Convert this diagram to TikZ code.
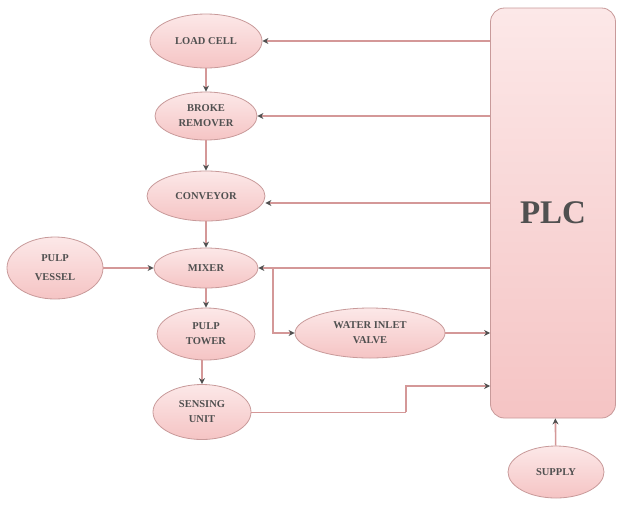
\documentclass[tikz,border=0pt]{standalone}
\usepackage{fontspec}
\setmainfont{Liberation Serif}
\usetikzlibrary{shapes.geometric,arrows.meta}
\definecolor{txt}{HTML}{505050}
\definecolor{edge}{HTML}{C89A9A}
\definecolor{wire}{HTML}{D49898}
\definecolor{tipc}{HTML}{505050}
\definecolor{ftop}{HTML}{FCE8E8}
\definecolor{fbot}{HTML}{F5C4C4}
\tikzset{
  blob/.style={ellipse, draw=edge, line width=0.8pt, top color=ftop, bottom color=fbot,
    inner sep=0pt, align=center, text=txt, font=\bfseries\fontsize{10.5}{15}\selectfont},
  wireline/.style={draw=wire, line width=1.6pt},
  arr/.style={wireline, -{Stealth[length=6pt,width=6pt,color=tipc]}},
}
\begin{document}
\begin{tikzpicture}[x=1pt,y=-1pt]
\useasboundingbox (0,0) rectangle (617,504);
% PLC
\node[draw=edge, line width=0.8pt, rounded corners=14pt, top color=ftop, bottom color=fbot,
  minimum width=125pt, minimum height=410pt, inner sep=0pt, text=txt,
  font=\bfseries\fontsize{33}{36}\selectfont] (plc) at (553,213) {PLC};
% ellipses
\node[blob, minimum width=112pt, minimum height=54pt] (load) at (206,41) {LOAD CELL};
\node[blob, minimum width=102pt, minimum height=48pt] (broke) at (206,116) {BROKE\\REMOVER};
\node[blob, minimum width=118pt, minimum height=50pt] (conv) at (206,196) {CONVEYOR};
\node[blob, minimum width=104pt, minimum height=40pt] (mixer) at (206,268) {MIXER};
\node[blob, minimum width=96pt, minimum height=62pt] (vessel) at (55,268) {PULP\\[4pt]VESSEL};
\node[blob, minimum width=98pt, minimum height=52pt] (tower) at (206,334) {PULP\\TOWER};
\node[blob, minimum width=98pt, minimum height=55pt] (sens) at (202,412) {SENSING\\UNIT};
\node[blob, minimum width=150pt, minimum height=50pt] (water) at (370,333) {WATER INLET\\VALVE};
\node[blob, minimum width=96pt, minimum height=52pt] (supply) at (556,472) {SUPPLY};
% vertical chain
\draw[arr] (load) -- (broke);
\draw[arr] (broke) -- (conv);
\draw[arr] (conv) -- (mixer);
\draw[arr] (mixer) -- (tower);
\draw[arr] (sens.north |- tower.south) -- (sens.north);
\draw[arr] (vessel) -- (mixer);
% PLC outputs
\draw[arr] (plc.west |- load) -- (load);
\draw[arr] (plc.west |- broke) -- (broke);
\draw[arr] (plc.west |- 0,203) -- (conv.east |- 0,203);
\draw[arr] (plc.west |- mixer) -- (mixer);
\coordinate (br) at (273,268);
\draw[arr] (br) -- (273,333) -- (water);
% inputs to PLC
\draw[arr] (water) -- (plc.west |- water);
\coordinate (s1) at (406,412);
\draw[wireline, line width=1pt] (sens) -- (s1);
\draw[arr] (s1) -- (406,386) -- (plc.west |- 0,386);
\draw[arr] (supply) -- (plc);
\end{tikzpicture}
\end{document}
